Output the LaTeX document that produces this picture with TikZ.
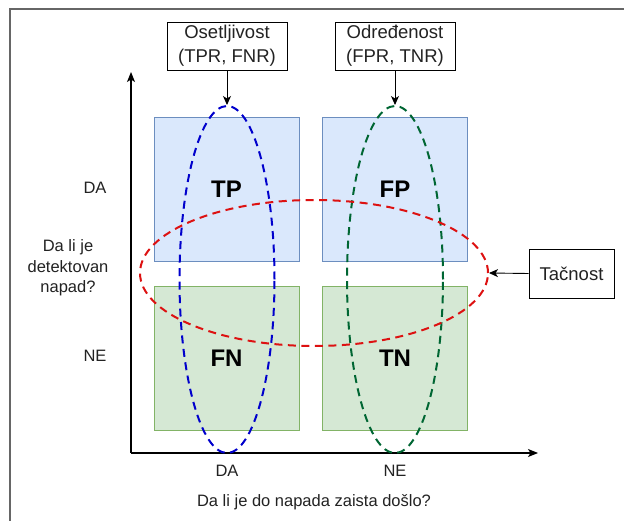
\documentclass[tikz,border=0pt]{standalone}
\usepackage{fontspec}
\setmainfont{Liberation Sans}
\usetikzlibrary{shapes.geometric,arrows.meta}
\definecolor{bluefill}{HTML}{DAE8FC}
\definecolor{bluestroke}{HTML}{6C8EBF}
\definecolor{greenfill}{HTML}{D5E8D4}
\definecolor{greenstroke}{HTML}{82B366}
\definecolor{ovalblue}{HTML}{0000CC}
\definecolor{ovalgreen}{HTML}{006633}
\definecolor{ovalred}{HTML}{DD1111}
\definecolor{txt}{HTML}{222222}
\definecolor{framegray}{HTML}{666666}
\begin{document}
\begin{tikzpicture}[x=1pt,y=-1pt,
  every node/.style={text=txt, inner sep=0pt},
  cellblue/.style={draw=bluestroke, fill=bluefill, line width=0.9pt,
    minimum width=145pt, minimum height=144pt, font=\fontsize{24}{28}\selectfont\bfseries, text=black},
  cellgreen/.style={draw=greenstroke, fill=greenfill, line width=0.9pt,
    minimum width=145pt, minimum height=144pt, font=\fontsize{24}{28}\selectfont\bfseries, text=black},
  oval/.style={ellipse, draw, line width=2pt, dash pattern=on 8pt off 5.5pt, fill=none},
  callout/.style={draw=black, fill=white, line width=0.9pt, align=center,
    font=\fontsize{18.5}{24}\selectfont},
  lbl/.style={font=\fontsize{16.5}{20.5}\selectfont, align=center},
  pointer/.style={-{Stealth[length=9pt,width=8pt,inset=2.5pt]}, line width=0.9pt, draw=black},
  axis/.style={-{Stealth[length=10pt,width=8pt,inset=2.5pt]}, line width=1.2pt, draw=black}
]
\useasboundingbox (0,0) rectangle (624,521);

% outer frame (left and top edges)
\draw[framegray, line width=1.2pt] (10,521) -- (10,9) -- (624,9);

% axes
\coordinate (origin) at (131,453);
\coordinate (ytip) at (131,72);
\coordinate (xtip) at (538,453);
\draw[axis] (origin) -- (ytip);
\draw[axis] (origin) -- (xtip);

% confusion matrix cells
\node[cellblue]  (tp) at (226.5,189) {TP};
\node[cellblue]  (fp) at (395,189)   {FP};
\node[cellgreen] (fn) at (226.5,358) {FN};
\node[cellgreen] (tn) at (395,358)   {TN};

% grouping ovals
\node[oval, draw=ovalblue,  minimum width=95pt,  minimum height=347pt] (sens) at (227,279.5) {};
\node[oval, draw=ovalgreen, minimum width=96pt,  minimum height=347pt] (spec) at (395,279.5) {};
\node[oval, draw=ovalred,   minimum width=348pt, minimum height=146pt] (acc)  at (314,273)   {};

% metric boxes
\node[callout, minimum width=120pt, minimum height=48pt] (osb) at (227,46) {Osetljivost\\(TPR, FNR)};
\node[callout, minimum width=120pt, minimum height=48pt] (odb) at (395,46) {Određenost\\(FPR, TNR)};
\node[callout, minimum width=85pt,  minimum height=49pt] (tac) at (571.5,273.5) {Tačnost};

\draw[pointer] (osb.south) -- (sens.north);
\draw[pointer] (odb.south) -- (spec.north);
\draw[pointer] (tac.west) -- (acc.east);

% axis labels
\node[lbl] (yda) at (95,188) {DA};
\node[lbl] (yq)  at (68,268) {Da li je\\detektovan\\napad?};
\node[lbl] (yne) at (95,356) {NE};
\node[lbl] (xda) at (227,471) {DA};
\node[lbl] (xne) at (395,471) {NE};
\node[lbl] (xq)  at (314,502) {Da li je do napada zaista došlo?};
\end{tikzpicture}
\end{document}
